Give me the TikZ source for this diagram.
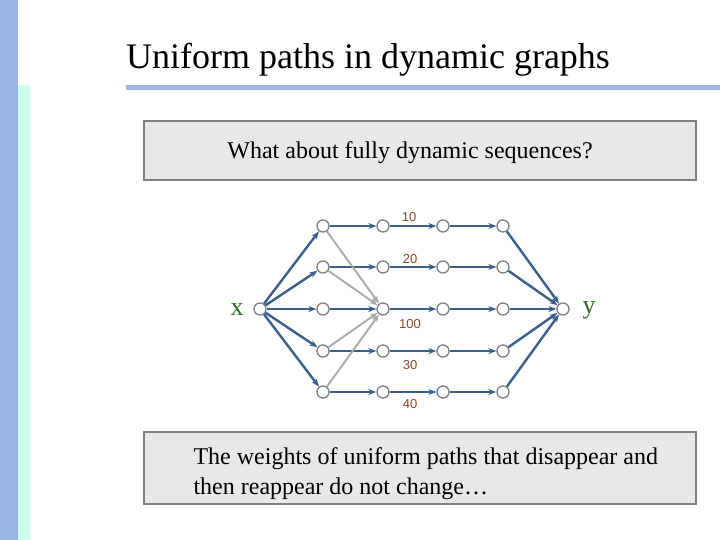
\documentclass[tikz,border=0pt]{standalone}
\usepackage{fontspec}
\setmainfont{Liberation Serif}
\setsansfont{Liberation Sans}
\usetikzlibrary{arrows.meta}
\definecolor{barblue}{HTML}{9BB5E8}
\definecolor{barcyan}{HTML}{CCFFEE}
\definecolor{edgeblue}{HTML}{3A5F8A}
\definecolor{edgegray}{HTML}{AAAAAA}
\definecolor{nodegray}{HTML}{808080}
\definecolor{boxfill}{HTML}{E8E8E8}
\definecolor{wtbrown}{HTML}{8B4A2B}
\definecolor{endgreen}{HTML}{2E6B2E}
\tikzset{
  vtx/.style={circle, draw=nodegray, line width=1.3pt, fill=white, minimum size=12pt, inner sep=0pt},
  ed/.style={-{Stealth[length=8pt,width=6pt]}, draw=edgeblue, line width=2.4pt},
  edg/.style={-{Stealth[length=8pt,width=6pt]}, draw=edgegray, line width=1.9pt},
  wt/.style={font=\sffamily\fontsize{13}{15}\selectfont, text=wtbrown},
  endlbl/.style={font=\fontsize{26}{28}\selectfont, text=endgreen},
  msgbox/.style={draw=nodegray, line width=1.3pt, fill=boxfill},
}
\begin{document}
\begin{tikzpicture}[x=1pt,y=-1pt]
\useasboundingbox (0,0) rectangle (720,540);
\fill[white] (0,0) rectangle (720,540);
\fill[barblue] (0,0) rectangle (18,540);
\fill[barcyan] (18,85) rectangle (30,540);
\fill[barblue] (126,85) rectangle (720,90);
\node[font=\fontsize{36}{40}\selectfont] (title) at (368,60) {Uniform paths in dynamic graphs};

\draw[msgbox] (144,121) rectangle (696,180);
\node[font=\fontsize{24}{27}\selectfont] (q) at (410,153) {What about fully dynamic sequences?};
\draw[msgbox] (144,432) rectangle (696,504);
\node[font=\fontsize{24}{30}\selectfont, align=left, anchor=west] (a) at (190,474)
  {The weights of uniform paths that disappear and\\then reappear do not change\ldots};

% graph
\node[vtx] (x) at (260,309) {};
\node[vtx] (y) at (563,309) {};
\node[endlbl] (xl) at (237,310) {x};
\node[endlbl] (yl) at (589,310) {y};
\foreach \r/\yy in {1/226,2/267,3/309,4/351,5/392}{
  \foreach \c/\xx in {1/323,2/383,3/443,4/503}{
    \node[vtx] (v\r\c) at (\xx,\yy) {};
  }
}
\foreach \r in {1,...,5}{
  \draw[ed] (x) -- (v\r1);
  \draw[ed] (v\r1) -- (v\r2);
  \draw[ed] (v\r2) -- (v\r3);
  \draw[ed] (v\r3) -- (v\r4);
  \draw[ed] (v\r4) -- (y);
}
\foreach \r in {1,2,4,5}{
  \draw[edg] (v\r1) -- (v32);
}
\node[wt] (w1) at (409,217) {10};
\node[wt] (w2) at (410,259) {20};
\node[wt] (w3) at (410,324) {100};
\node[wt] (w4) at (410,365) {30};
\node[wt] (w5) at (410,404) {40};
\end{tikzpicture}
\end{document}
